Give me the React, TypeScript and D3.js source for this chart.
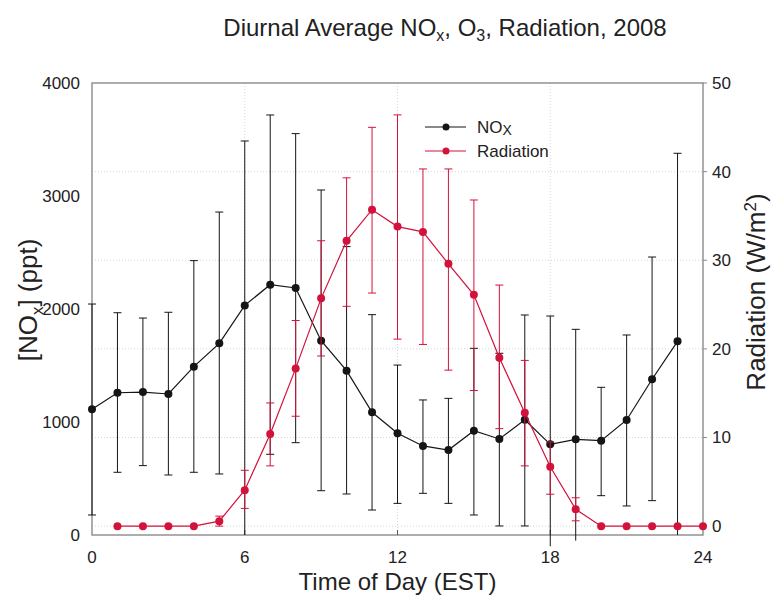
import React from "react";
import * as d3 from "d3";

const noxHours = [0,1,2,3,4,5,6,7,8,9,10,11,12,13,14,15,16,17,18,19,20,21,22,23];
const noxMean = [1112,1259,1265,1248,1490,1696,2032,2215,2186,1720,1454,1086,900,788,752,923,850,1020,802,847,835,1018,1378,1714];
const noxUpper = [2044,1967,1920,1971,2428,2858,3487,3717,3552,3053,2552,1950,1504,1195,1209,1652,1608,1947,1938,1820,1307,1770,2460,3378];
const noxLower = [177,555,614,531,555,540,0,714,817,392,363,221,280,369,280,177,80,80,-100,-50,348,257,304,0];

const radHours = [1,2,3,4,5,6,7,8,9,10,11,12,13,14,15,16,17,18,19,20,21,22,23,24];
const radMean = [0,0,0,0,0.56,4.06,10.4,17.8,25.7,32.2,35.7,33.8,33.2,29.6,26.1,19.0,12.8,6.7,1.9,0,0,0,0,0];
const radUpper = [0,0,0,0,1.13,6.3,13.9,23.2,32.2,39.3,45.0,46.4,40.3,40.3,36.8,27.2,18.7,9.5,3.2,0,0,0,0,0];
const radLower = [0,0,0,0,0,2.0,6.8,12.4,19.2,24.8,26.3,21.1,20.5,17.6,15.3,11.0,6.8,3.6,0.6,0,0,0,0,0];

const xTicks = [0, 6, 12, 18, 24];
const leftTicks = [0, 1000, 2000, 3000, 4000];
const rightTicks = [0, 10, 20, 30, 40, 50];

const W = 772, H = 606;
const L = 92, R = 703, T = 83, B = 535;
const FONT = "'Liberation Sans', Arial, Helvetica, sans-serif";
const RED = "#d3123b";
const BLACK = "#151515";
const AXIS = "#8a8a8a";

export default function App() {
  const x = d3.scaleLinear().domain([0, 24]).range([L, R]);
  const yN = d3.scaleLinear().domain([0, 4000]).range([B, T]);
  const yR = d3.scaleLinear().domain([-1, 50]).range([B, T]);

  const noxLine = d3.line<number>().x((_, i) => x(noxHours[i])).y((d) => yN(d))(noxMean) || "";
  const radLine = d3.line<number>().x((_, i) => x(radHours[i])).y((d) => yR(d))(radMean) || "";
  const cap = 4;

  return (
    <svg width={W} height={H} style={{ position: "fixed", left: 0, top: 0, background: "#fff" }} fontFamily={FONT}>
      {/* grid */}
      {rightTicks.filter((t) => t < 50).map((t) => (
        <line key={"gh" + t} x1={L} x2={R} y1={yR(t)} y2={yR(t)} stroke="#d6d6d6" strokeWidth={1} strokeDasharray="1,2" />
      ))}
      {xTicks.filter((t) => t > 0 && t < 24).map((t) => (
        <line key={"gv" + t} x1={x(t)} x2={x(t)} y1={T} y2={B} stroke="#d6d6d6" strokeWidth={1} strokeDasharray="1,2" />
      ))}

      {/* frame */}
      <rect x={L} y={T} width={R - L} height={B - T} fill="none" stroke={AXIS} strokeWidth={1.4} />
      {/* bottom ticks (inward) */}
      {xTicks.filter((t) => t > 0 && t < 24).map((t) => (
        <line key={"bt" + t} x1={x(t)} x2={x(t)} y1={B} y2={B - 5} stroke="#555" strokeWidth={1} />
      ))}
      {/* right ticks (outward) */}
      {rightTicks.map((t) => (
        <line key={"rt" + t} x1={R} x2={R + 4} y1={yR(t)} y2={yR(t)} stroke={AXIS} strokeWidth={1} />
      ))}

      {/* NOx error bars */}
      {noxHours.map((h, i) => (
        <g key={"ne" + h} stroke={BLACK} strokeWidth={1}>
          <line x1={x(h)} x2={x(h)} y1={yN(noxUpper[i])} y2={yN(noxLower[i])} />
          <line x1={x(h) - cap} x2={x(h) + cap} y1={yN(noxUpper[i])} y2={yN(noxUpper[i])} />
          {noxLower[i] > 0 && <line x1={x(h) - cap} x2={x(h) + cap} y1={yN(noxLower[i])} y2={yN(noxLower[i])} />}
        </g>
      ))}
      <path d={noxLine} fill="none" stroke={BLACK} strokeWidth={1.2} />
      {noxHours.map((h, i) => (
        <circle key={"nc" + h} cx={x(h)} cy={yN(noxMean[i])} r={4} fill={BLACK} />
      ))}

      {/* Radiation error bars */}
      {radHours.map((h, i) =>
        radUpper[i] > radLower[i] ? (
          <g key={"re" + h} stroke={RED} strokeWidth={1}>
            <line x1={x(h)} x2={x(h)} y1={yR(radUpper[i])} y2={yR(radLower[i])} />
            <line x1={x(h) - cap} x2={x(h) + cap} y1={yR(radUpper[i])} y2={yR(radUpper[i])} />
            <line x1={x(h) - cap} x2={x(h) + cap} y1={yR(radLower[i])} y2={yR(radLower[i])} />
          </g>
        ) : null
      )}
      <path d={radLine} fill="none" stroke={RED} strokeWidth={1.2} />
      {radHours.map((h, i) => (
        <circle key={"rc" + h} cx={x(h)} cy={yR(radMean[i])} r={4} fill={RED} />
      ))}

      {/* left tick labels */}
      {leftTicks.map((t) => (
        <text key={"lt" + t} x={L - 12} y={yN(t)} dy="0.35em" textAnchor="end" fontSize={17} fill="#222">{t}</text>
      ))}
      {/* right tick labels */}
      {rightTicks.map((t) => (
        <text key={"rl" + t} x={R + 9} y={yR(t)} dy="0.35em" textAnchor="start" fontSize={17} fill="#222">{t}</text>
      ))}
      {/* bottom tick labels */}
      {xTicks.map((t) => (
        <text key={"xl" + t} x={x(t)} y={B + 28} textAnchor="middle" fontSize={17} fill="#222">{t}</text>
      ))}

      {/* axis titles */}
      <text x={x(12)} y={B + 55} textAnchor="middle" fontSize={24} fill="#222">Time of Day (EST)</text>
      <text transform={`translate(37, 300) rotate(-90)`} textAnchor="middle" fontSize={26} fill="#222">
        [NO<tspan fontSize={17} dy={6}>x</tspan><tspan dy={-6}>] (ppt)</tspan>
      </text>
      <text transform={`translate(765, 292) rotate(-90)`} textAnchor="middle" fontSize={26} fill="#222">
        Radiation (W/m<tspan fontSize={17} dy={-9}>2</tspan><tspan dy={9}>)</tspan>
      </text>

      {/* title */}
      <text x={445} y={36} textAnchor="middle" fontSize={24} fill="#222">
        Diurnal Average NO<tspan fontSize={16} dy={5}>x</tspan><tspan dy={-5}>, O</tspan><tspan fontSize={16} dy={5}>3</tspan><tspan dy={-5}>, Radiation, 2008</tspan>
      </text>

      {/* legend */}
      <g>
        <line x1={425} x2={466} y1={127} y2={127} stroke={BLACK} strokeWidth={1.2} />
        <circle cx={446} cy={127} r={3.5} fill={BLACK} />
        <text x={477} y={127} dy="0.35em" fontSize={17} fill="#222">NO<tspan fontSize={14} dy={2}>X</tspan></text>
        <line x1={425} x2={466} y1={151} y2={151} stroke={RED} strokeWidth={1.2} />
        <circle cx={446} cy={151} r={3.5} fill={RED} />
        <text x={477} y={151} dy="0.35em" fontSize={17} fill="#222">Radiation</text>
      </g>
    </svg>
  );
}
